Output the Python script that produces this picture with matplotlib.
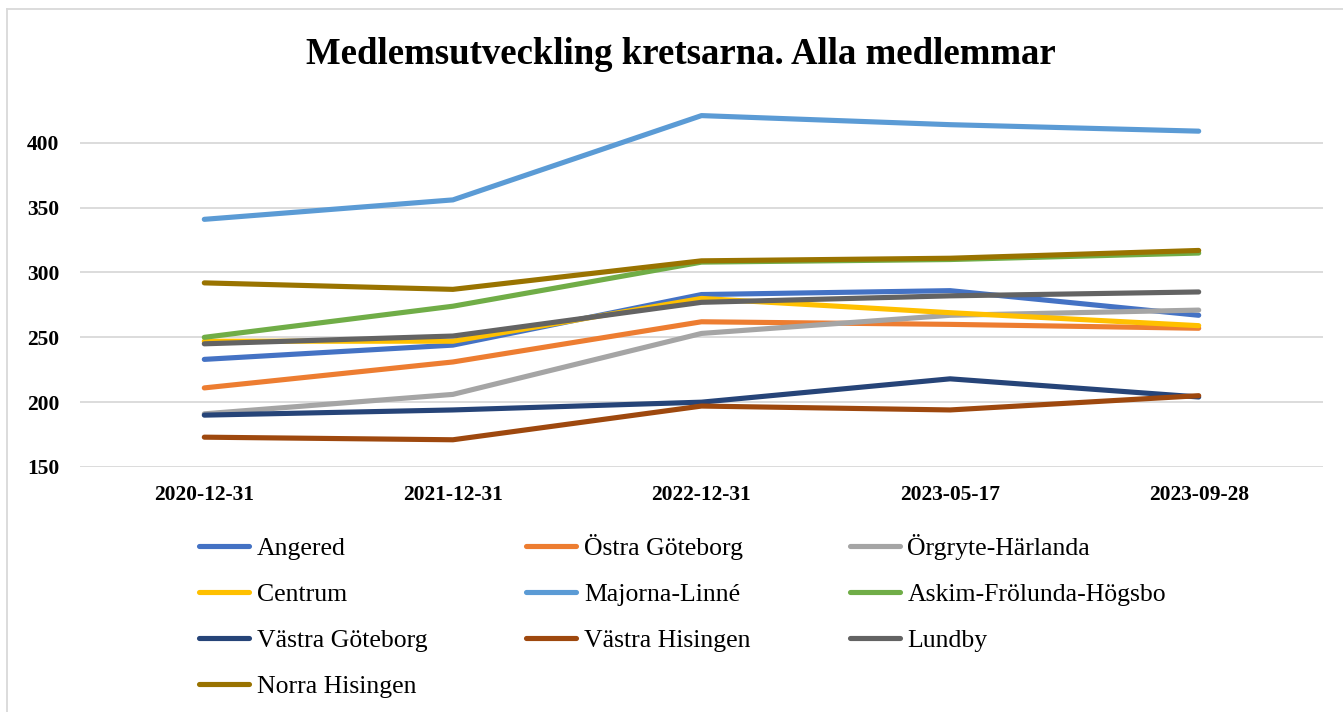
import matplotlib.pyplot as plt
from matplotlib.lines import Line2D

# data
datum = ["2020-12-31", "2021-12-31", "2022-12-31", "2023-05-17", "2023-09-28"]

angered = [233, 244, 283, 286, 267]
ostra_goteborg = [211, 231, 262, 260, 257]
orgryte_harlanda = [191, 206, 253, 267, 271]
centrum = [247, 247, 280, 269, 259]
majorna_linne = [341, 356, 421, 414, 409]
askim = [250, 274, 308, 310, 315]
vastra_goteborg = [190, 194, 200, 218, 204]
vastra_hisingen = [173, 171, 197, 194, 205]
lundby = [245, 251, 277, 282, 285]
norra_hisingen = [292, 287, 309, 311, 317]

namn = ["Angered", "Östra Göteborg", "Örgryte-Härlanda", "Centrum", "Majorna-Linné",
        "Askim-Frölunda-Högsbo", "Västra Göteborg", "Västra Hisingen", "Lundby", "Norra Hisingen"]
serier = [angered, ostra_goteborg, orgryte_harlanda, centrum, majorna_linne,
          askim, vastra_goteborg, vastra_hisingen, lundby, norra_hisingen]
farger = ["#4472C4", "#ED7D31", "#A5A5A5", "#FFC000", "#5B9BD5",
          "#70AD47", "#264478", "#9E480E", "#636363", "#997300"]

plt.rcParams['font.family'] = ['Liberation Serif', 'DejaVu Serif']

fig = plt.figure(figsize=(13.43, 7.12), dpi=100)
ax = fig.add_axes([80/1343, 1-467/712, 1243/1343, 389/712])

x = list(range(len(datum)))
linjer = []
for n, s, c in zip(namn, serier, farger):
    l, = ax.plot(x, s, color=c, lw=3.7, solid_capstyle='round', solid_joinstyle='round', label=n)
    linjer.append(l)

ax.set_xlim(-0.5, 4.5)
ax.set_ylim(150, 450)
ax.set_yticks([150, 200, 250, 300, 350, 400])
ax.set_xticks(x)
ax.set_xticklabels(datum)
for lab in ax.get_xticklabels() + ax.get_yticklabels():
    lab.set_fontweight('bold')
    lab.set_fontsize(15.5)
ax.tick_params(length=0, pad=13)
ax.tick_params(axis='y', pad=15)
ax.grid(axis='y', color='#d9d9d9', lw=1.3)
ax.set_axisbelow(True)
for sp in ax.spines.values():
    sp.set_visible(False)

fig.text(0.507, 1-54/712, "Medlemsutveckling kretsarna. Alla medlemmar",
         ha='center', va='center', fontsize=26.5, fontweight='bold')

# legend: matplotlib fills column by column
ordning = [0, 3, 6, 9, 1, 4, 7, 2, 5, 8]
fig.legend([linjer[i] for i in ordning], [namn[i] for i in ordning],
           loc='upper left', bbox_to_anchor=(199/1343, 1-534/712), ncol=3,
           frameon=False, fontsize=18.5, handlelength=1.95, handletextpad=0.3,
           columnspacing=3.85, labelspacing=0.9, borderpad=0, borderaxespad=0)

# chart border
fig.add_artist(Line2D([7/1343, 7/1343], [0, 1-9/712], color='#d9d9d9', lw=1.3))
fig.add_artist(Line2D([7/1343, 1], [1-9/712, 1-9/712], color='#d9d9d9', lw=1.3))

fig.savefig("out.png", dpi=100)
